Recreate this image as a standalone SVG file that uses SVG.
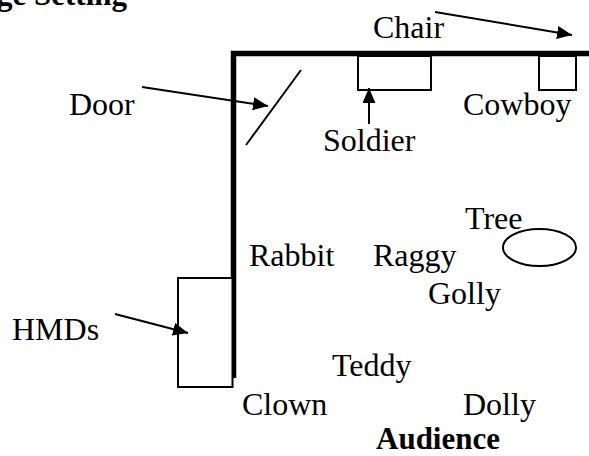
<svg xmlns="http://www.w3.org/2000/svg" width="589" height="456" viewBox="0 0 589 456">
<defs>
<style>
text{font-family:"Liberation Serif","Times New Roman",serif;font-size:32px;fill:#000}
.b{font-weight:bold;font-size:31px}
.wall{stroke:#000;stroke-width:5.5;fill:none}
.box{stroke:#000;stroke-width:2;fill:#fff}
.ln{stroke:#000;stroke-width:2;fill:none}
.arr{stroke:#000;stroke-width:2;fill:none;marker-end:url(#ah)}
</style>
<marker id="ah" markerUnits="userSpaceOnUse" markerWidth="16" markerHeight="14" refX="15" refY="6.5" orient="auto">
<path d="M0,0 L15,6.5 L0,13 z" fill="#000"/>
</marker>
</defs>
<rect width="589" height="456" fill="#fff"/>
<text class="b" x="-3" y="5">ge Setting</text>
<g id="walls">
<path class="wall" d="M233.5,378 V53.5 H589"/>
</g>
<g id="door">
<line class="ln" x1="301" y1="70" x2="246" y2="145"/>
<text x="69" y="115">Door</text>
</g>
<g id="soldier">
<rect class="box" x="358" y="56" width="73" height="34"/>
<text x="323" y="151">Soldier</text>
</g>
<g id="cowboy">
<rect class="box" x="539" y="56" width="37" height="34"/>
<text x="463" y="115">Cowboy</text>
</g>
<g id="chair">
<text x="373" y="38">Chair</text>
</g>
<g id="hmds">
<rect class="box" x="178" y="278" width="54.5" height="109"/>
<text x="12" y="340">HMDs</text>
</g>
<g id="tree">
<ellipse cx="539.5" cy="247.5" rx="36.5" ry="18.5" class="ln"/>
<text x="465" y="229">Tree</text>
</g>
<g id="rabbit"><text x="249" y="266">Rabbit</text></g>
<g id="raggy"><text x="373" y="266">Raggy</text></g>
<g id="golly"><text x="428" y="304">Golly</text></g>
<g id="teddy"><text x="332" y="376">Teddy</text></g>
<g id="clown"><text x="242" y="415">Clown</text></g>
<g id="dolly"><text x="463" y="415">Dolly</text></g>
<g id="audience"><text class="b" x="376" y="449">Audience</text></g>
<g id="connectors">
<line class="arr" x1="142" y1="87" x2="268" y2="106"/>
<line class="arr" x1="435" y1="12" x2="572" y2="35"/>
<line class="arr" x1="369" y1="124" x2="369" y2="88"/>
<line class="arr" x1="115" y1="314" x2="188" y2="333"/>
</g>
</svg>
